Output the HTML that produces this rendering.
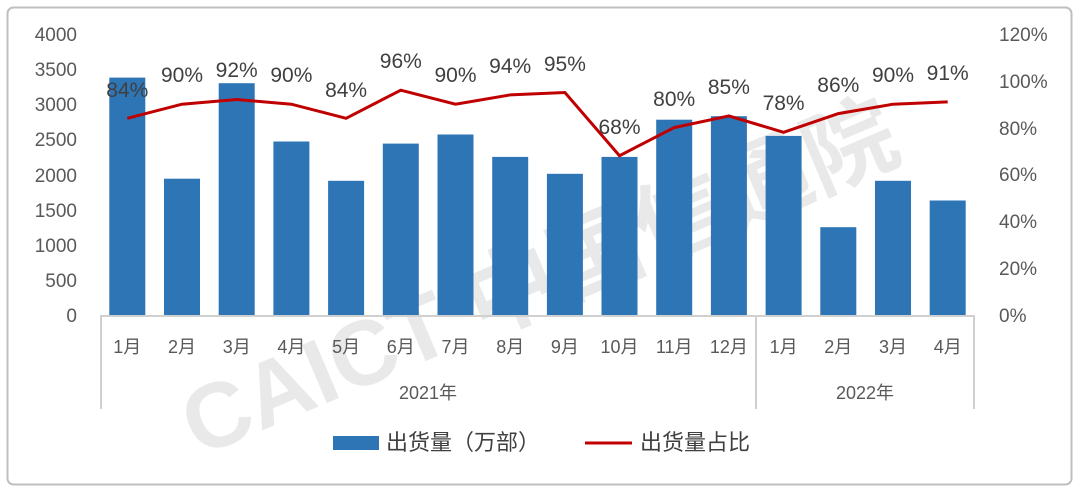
<!DOCTYPE html>
<html><head><meta charset="utf-8"><style>
html,body{margin:0;padding:0;background:#fff;}
svg{display:block;font-family:"Liberation Sans","Noto Sans CJK SC",sans-serif;}
</style></head><body>
<svg width="1080" height="494" viewBox="0 0 1080 494" xmlns="http://www.w3.org/2000/svg">
<rect x="7.5" y="7.5" width="1064" height="477" rx="6" fill="#fff" stroke="#bfbfbf" stroke-width="2"/>
<g opacity="0.12" transform="rotate(-23 540 280)">
<text x="540" y="310" font-size="92" font-weight="bold" fill="#555" text-anchor="middle">CAICT 中国信通院</text>
</g>
<g fill="#595959" font-size="19" text-anchor="end">
<text x="77" y="41">4000</text><text x="77" y="76">3500</text><text x="77" y="111">3000</text><text x="77" y="146">2500</text><text x="77" y="182">2000</text><text x="77" y="217">1500</text><text x="77" y="252">1000</text><text x="77" y="287">500</text><text x="77" y="322">0</text>
</g>
<g fill="#595959" font-size="19">
<text x="999" y="41">120%</text><text x="999" y="88">100%</text><text x="999" y="135">80%</text><text x="999" y="181">60%</text><text x="999" y="228">40%</text><text x="999" y="275">20%</text><text x="999" y="322">0%</text>
</g>
<g fill="#2e75b6">
<rect x="109.3" y="77.6" width="36" height="237.4"/>
<rect x="164" y="178.7" width="36" height="136.3"/>
<rect x="218.7" y="83.2" width="36" height="231.8"/>
<rect x="273.4" y="141.5" width="36" height="173.5"/>
<rect x="328.1" y="180.8" width="36" height="134.2"/>
<rect x="382.8" y="143.6" width="36" height="171.4"/>
<rect x="437.5" y="134.5" width="36" height="180.5"/>
<rect x="492.2" y="156.9" width="36" height="158.1"/>
<rect x="546.9" y="173.8" width="36" height="141.2"/>
<rect x="601.5" y="156.9" width="36" height="158.1"/>
<rect x="656.2" y="119.7" width="36" height="195.3"/>
<rect x="710.9" y="116.2" width="36" height="198.8"/>
<rect x="765.6" y="135.9" width="36" height="179.1"/>
<rect x="820.3" y="227.2" width="36" height="87.8"/>
<rect x="875" y="180.8" width="36" height="134.2"/>
<rect x="929.7" y="200.5" width="36" height="114.5"/>
</g>
<g stroke="#d0d0d0" stroke-width="2" fill="none">
<line x1="100" y1="316" x2="975" y2="316"/>
<line x1="101" y1="316" x2="101" y2="409"/>
<line x1="756" y1="316" x2="756" y2="409"/>
<line x1="974" y1="316" x2="974" y2="409"/>
</g>
<polyline fill="none" stroke="#c00000" stroke-width="3" points="127.3,118.3 182,104.2 236.7,99.5 291.4,104.2 346.1,118.3 400.8,90.2 455.5,104.2 510.2,94.9 564.9,92.5 619.5,155.7 674.2,127.6 728.9,115.9 783.6,132.3 838.3,113.6 893,104.2 947.7,101.9"/>
<g fill="#404040" font-size="21" text-anchor="middle">
<text x="127.3" y="97">84%</text><text x="182" y="82">90%</text><text x="236.7" y="77">92%</text><text x="291.4" y="82">90%</text><text x="346.1" y="97">84%</text><text x="400.8" y="68">96%</text><text x="455.5" y="82">90%</text><text x="510.2" y="73">94%</text><text x="564.9" y="71">95%</text><text x="619.5" y="134">68%</text><text x="674.2" y="106">80%</text><text x="728.9" y="94">85%</text><text x="783.6" y="110">78%</text><text x="838.3" y="92">86%</text><text x="893" y="82">90%</text><text x="947.7" y="80">91%</text>
</g>
<g fill="#595959" font-size="18" text-anchor="middle">
<text x="127.3" y="353">1月</text><text x="182" y="353">2月</text><text x="236.7" y="353">3月</text><text x="291.4" y="353">4月</text><text x="346.1" y="353">5月</text><text x="400.8" y="353">6月</text><text x="455.5" y="353">7月</text><text x="510.2" y="353">8月</text><text x="564.9" y="353">9月</text><text x="619.5" y="353">10月</text><text x="674.2" y="353">11月</text><text x="728.9" y="353">12月</text><text x="783.6" y="353">1月</text><text x="838.3" y="353">2月</text><text x="893" y="353">3月</text><text x="947.7" y="353">4月</text>
<text x="428" y="399">2021年</text><text x="865" y="399">2022年</text>
</g>
<rect x="333" y="436" width="46" height="14" fill="#2e75b6"/>
<text x="386" y="450" font-size="22" fill="#404040">出货量（万部）</text>
<line x1="585" y1="443" x2="632" y2="443" stroke="#c00000" stroke-width="3"/>
<text x="640" y="450" font-size="22" fill="#404040">出货量占比</text>
</svg>
</body></html>
